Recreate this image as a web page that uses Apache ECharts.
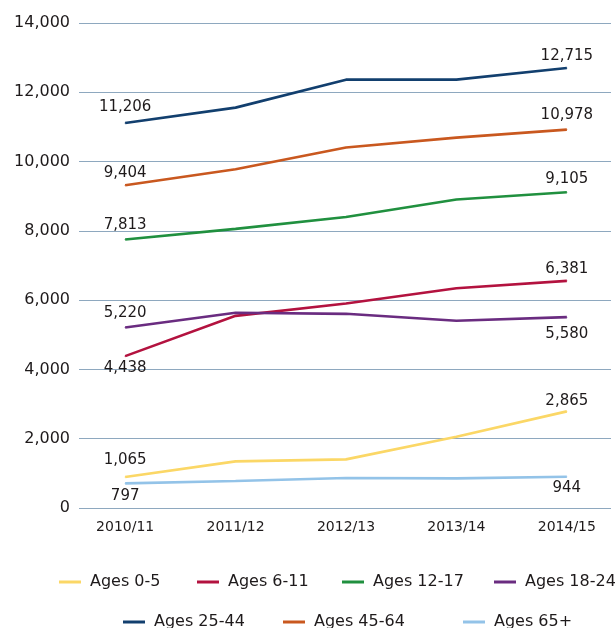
<!DOCTYPE html>
<html>
<head>
<meta charset="utf-8">
<script src="https://cdn.jsdelivr.net/npm/echarts@6/dist/echarts.min.js"></script>
<style>
  html, body { margin: 0; padding: 0; background: #fff; }
  #main { width: 615px; height: 628px; }
</style>
</head>
<body>
<div id="main"></div>
<script>
// categories
const years = ['2010/11', '2011/12', '2012/13', '2013/14', '2014/15'];

// series values
const ages0to5   = [894, 1346, 1404, 2057, 2789];
const ages6to11  = [4384, 5547, 5904, 6345, 6557];
const ages12to17 = [7750, 8056, 8402, 8904, 9114];
const ages18to24 = [5212, 5634, 5605, 5403, 5509];
const ages25to44 = [11113, 11557, 12365, 12365, 12700];
const ages45to64 = [9316, 9778, 10404, 10692, 10923];
const ages65plus = [712, 779, 865, 856, 904];

// printed numbers at the start / end of each line
const firstLabels = [1065, 4438, 7813, 5220, 11206, 9404, 797];
const lastLabels  = [2865, 6381, 9105, 5580, 12715, 10978, 944];

const names = ['Ages 0-5', 'Ages 6-11', 'Ages 12-17', 'Ages 18-24', 'Ages 25-44', 'Ages 45-64', 'Ages 65+'];
const values = [ages0to5, ages6to11, ages12to17, ages18to24, ages25to44, ages45to64, ages65plus];
const colors = ['#fbd766', '#b3123f', '#20903f', '#6a2c80', '#123f6e', '#c9581f', '#93c3e8'];

// label placement: [position, distance] for first and last point
const labelPlace = [
  [['top', 9], ['top', 2]],
  [['bottom', 4], ['top', 4]],
  [['top', 6], ['top', 5]],
  [['top', 6], ['bottom', 9]],
  [['top', 8], ['top', 4]],
  [['top', 4], ['top', 6]],
  [['bottom', 5], ['bottom', 3]]
];

// legend spots (left, top) of each item, two rows
const legendSpot = [[54, 569], [192, 569], [337, 569], [489, 569], [118, 609], [278, 609], [458, 609]];

const fmt = v => v.toLocaleString('en-US');
const txt = '#1e1a1b';
const font = 'DejaVu Sans';

let myChart = echarts.init(document.getElementById('main'));

const series = names.map((name, s) => ({
  name: name,
  type: 'line',
  symbol: 'circle',
  symbolSize: 1,
  color: colors[s],
  lineStyle: { width: 2.6, color: colors[s] },
  itemStyle: { color: colors[s] },
  emphasis: { disabled: true },
  data: values[s].map((v, i) => {
    let item = { value: [i, v] };
    if (i === 0 || i === values[s].length - 1) {
      const place = labelPlace[s][i === 0 ? 0 : 1];
      const text = fmt(i === 0 ? firstLabels[s] : lastLabels[s]);
      item.label = {
        show: true,
        position: place[0],
        distance: place[1],
        formatter: text,
        color: txt,
        fontFamily: font,
        fontSize: 15
      };
    }
    return item;
  })
}));

const legends = names.map((name, s) => ({
  data: [name],
  left: legendSpot[s][0],
  top: legendSpot[s][1],
  icon: 'rect',
  itemWidth: 22,
  itemHeight: 3,
  selectedMode: false,
  textStyle: { color: txt, fontFamily: font, fontSize: 16, padding: [0, 0, 0, 4] }
}));

let option = {
  animation: false,
  backgroundColor: '#fff',
  grid: { left: 79, right: 4, top: 23, bottom: 120 },
  xAxis: {
    type: 'value',
    min: -0.418,
    max: 4.4,
    axisLine: { show: false },
    axisTick: { show: false },
    splitLine: { show: false },
    axisLabel: {
      customValues: [0, 1, 2, 3, 4],
      formatter: v => years[Math.round(v)],
      color: txt,
      fontFamily: font,
      fontSize: 14,
      margin: 12
    }
  },
  yAxis: {
    type: 'value',
    min: 0,
    max: 14000,
    interval: 2000,
    axisLine: { show: false },
    axisTick: { show: false },
    splitLine: { lineStyle: { color: '#8ea8bf', width: 1.2 } },
    axisLabel: {
      formatter: v => fmt(v),
      color: txt,
      fontFamily: font,
      fontSize: 16,
      margin: 9
    }
  },
  legend: legends,
  series: series
};

myChart.setOption(option);
</script>
</body>
</html>
